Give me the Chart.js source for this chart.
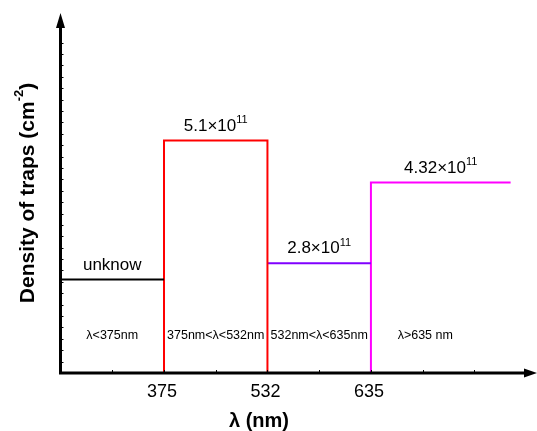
<!DOCTYPE html>
<html>
<head>
<meta charset="utf-8">
<script src="https://cdn.jsdelivr.net/npm/chart.js@4"></script>
<style>
  html, body { margin: 0; padding: 0; background: #fff; }
  #wrap { width: 537px; height: 431px; }
</style>
</head>
<body>
<div id="wrap"><canvas id="trapChart"></canvas></div>
<script>
// DATA (x in slot units along the wavelength axis, y in 10^11 cm^-2 as drawn)
const bandStart = [0, 2, 4, 6];
const bandEnd = [2, 4, 6, 8.7];
const bandLevels = [2.05, 5.1, 2.41, 4.18];
const bandColors = ['#000000', '#ff0000', '#8000ff', '#ff00ff'];
const riseLeft = [false, true, false, true];
const dropRight = [false, true, false, false];
const valueText = ['unknow', '5.1×10', '2.8×10', '4.32×10'];
const valueExp = ['', '11', '11', '11'];
const rangeLabels = ['λ<375nm', '375nm<λ<532nm', '532nm<λ<635nm', 'λ>635 nm'];
const rangeLabelAt = [1, 3, 5, 7.05];
const tickPos = [2, 4, 6];
const tickLabels = ['375', '532', '635'];

const FONT = '"Liberation Sans", Arial, sans-serif';

// one dataset per band, built as a step outline
const datasets = bandLevels.map((level, i) => {
    const pts = [];
    if (riseLeft[i]) pts.push({ x: bandStart[i], y: 0 });
    pts.push({ x: bandStart[i], y: level });
    pts.push({ x: bandEnd[i], y: level });
    if (dropRight[i]) pts.push({ x: bandEnd[i], y: 0 });
    return {
        data: pts, borderColor: bandColors[i], borderWidth: 2,
        pointRadius: 0, tension: 0, fill: false
    };
});

// draw text with a superscript, centred on cx
function drawSup(ctx, base, sup, cx, y, size) {
    const supSize = Math.round(size * 0.65);
    ctx.font = size + 'px ' + FONT;
    const wb = ctx.measureText(base).width;
    ctx.font = supSize + 'px ' + FONT;
    const ws = sup ? ctx.measureText(sup).width : 0;
    const x0 = cx - (wb + ws) / 2;
    ctx.textAlign = 'left';
    ctx.textBaseline = 'alphabetic';
    ctx.font = size + 'px ' + FONT;
    ctx.fillText(base, x0, y);
    if (sup) {
        ctx.font = supSize + 'px ' + FONT;
        ctx.fillText(sup, x0 + wb, y - size * 0.45);
    }
}

const decorations = {
    id: 'decorations',
    afterDraw(chart) {
        const { ctx, chartArea, scales } = chart;
        const xs = scales.x, ys = scales.y;
        const x0 = chartArea.left, y0 = ys.getPixelForValue(0);
        ctx.save();
        ctx.fillStyle = '#000';
        ctx.strokeStyle = '#000';

        // axes
        ctx.lineWidth = 3;
        ctx.beginPath();
        ctx.moveTo(x0, y0 + 1.5); ctx.lineTo(x0, 27);
        ctx.moveTo(x0 - 1.5, y0); ctx.lineTo(525, y0);
        ctx.stroke();
        ctx.beginPath();
        ctx.moveTo(x0, 13); ctx.lineTo(x0 - 4.5, 28); ctx.lineTo(x0 + 4.5, 28); ctx.closePath();
        ctx.moveTo(537, y0); ctx.lineTo(524, y0 - 4.5); ctx.lineTo(524, y0 + 4.5); ctx.closePath();
        ctx.fill();

        // minor ticks
        ctx.lineWidth = 1;
        ctx.beginPath();
        for (let k = 1; k <= 8; k++) {
            const px = Math.round(xs.getPixelForValue(k)) + 0.5;
            ctx.moveTo(px, y0); ctx.lineTo(px, y0 - 3);
        }
        for (let k = 1; k <= 29; k++) {
            const py = Math.round(ys.getPixelForValue(k * 0.25)) + 0.5;
            ctx.moveTo(x0, py); ctx.lineTo(x0 + 3, py);
        }
        ctx.stroke();

        // tick labels
        ctx.font = '18px ' + FONT;
        ctx.textAlign = 'center';
        ctx.textBaseline = 'middle';
        tickPos.forEach((v, i) => ctx.fillText(tickLabels[i], xs.getPixelForValue(v) - 2, y0 + 19));

        // value labels above each band
        bandLevels.forEach((lv, i) => {
            const cx = xs.getPixelForValue((bandStart[i] + bandEnd[i]) / 2);
            drawSup(ctx, valueText[i], valueExp[i], cx, ys.getPixelForValue(lv) - 10, 17);
        });

        // wavelength range labels
        ctx.font = '12.5px ' + FONT;
        ctx.textAlign = 'center';
        ctx.textBaseline = 'middle';
        rangeLabels.forEach((t, i) => ctx.fillText(t, xs.getPixelForValue(rangeLabelAt[i]), ys.getPixelForValue(0.83)));

        // axis titles
        ctx.font = 'bold 20px ' + FONT;
        ctx.fillText('λ (nm)', 259, 421);

        ctx.translate(28, 193);
        ctx.rotate(-Math.PI / 2);
        const base = 'Density of traps (cm';
        ctx.font = 'bold 21px ' + FONT;
        const wb = ctx.measureText(base).width;
        ctx.font = 'bold 13px ' + FONT;
        const ws = ctx.measureText('-2').width;
        ctx.font = 'bold 21px ' + FONT;
        const wc = ctx.measureText(')').width;
        let tx = -(wb + ws + wc) / 2;
        ctx.textAlign = 'left';
        ctx.textBaseline = 'middle';
        ctx.fillText(base, tx, 0);
        ctx.font = 'bold 13px ' + FONT;
        ctx.fillText('-2', tx + wb, -9);
        ctx.font = 'bold 21px ' + FONT;
        ctx.fillText(')', tx + wb + ws, 0);
        ctx.restore();
    }
};

const chart = new Chart(document.getElementById('trapChart'), {
    type: 'line',
    data: { datasets: datasets },
    options: {
        responsive: true,
        maintainAspectRatio: false,
        devicePixelRatio: 1,
        animation: false,
        layout: { padding: { left: 60.5, right: 0, top: 13, bottom: 58 } },
        scales: {
            x: { type: 'linear', min: 0, max: 9.21, display: false },
            y: { type: 'linear', min: 0, max: 7.9, display: false }
        },
        plugins: { legend: { display: false }, tooltip: { enabled: false } }
    },
    plugins: [decorations]
});
</script>
</body>
</html>
